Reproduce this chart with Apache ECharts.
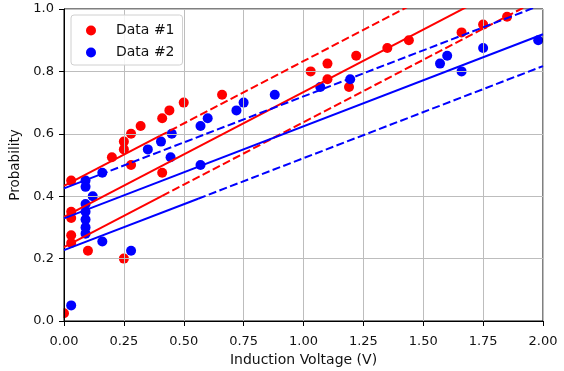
<!DOCTYPE html>
<html>
<head>
<meta charset="utf-8">
<script src="https://cdn.jsdelivr.net/npm/echarts@6/dist/echarts.min.js"></script>
<style>html,body{margin:0;padding:0;background:#fff;}#c{width:564px;height:371px;}</style>
</head>
<body>
<div id="c"></div>
<script>
// ---- data ----
const data1 = [
  [0.00,0.025],[0.03,0.45],[0.03,0.35],[0.03,0.33],[0.03,0.275],[0.03,0.25],
  [0.10,0.225],[0.20,0.525],[0.25,0.575],[0.25,0.55],[0.25,0.20],[0.28,0.60],
  [0.28,0.50],[0.32,0.625],[0.41,0.65],[0.41,0.475],[0.44,0.675],[0.50,0.70],
  [0.66,0.725],[1.03,0.80],[1.10,0.825],[1.10,0.775],[1.19,0.75],[1.22,0.85],
  [1.35,0.875],[1.44,0.90],[1.66,0.925],[1.75,0.95],[1.85,0.975]
];
const data2 = [
  [0.03,0.05],[0.09,0.45],[0.09,0.43],[0.09,0.375],[0.09,0.35],[0.09,0.325],
  [0.09,0.30],[0.09,0.28],[0.12,0.40],[0.16,0.475],[0.16,0.255],[0.28,0.225],
  [0.35,0.55],[0.405,0.575],[0.45,0.60],[0.445,0.525],[0.57,0.50],[0.57,0.625],
  [0.60,0.65],[0.72,0.675],[0.75,0.70],[0.88,0.725],[1.07,0.75],[1.195,0.775],
  [1.57,0.825],[1.60,0.85],[1.66,0.80],[1.75,0.875],[1.98,0.90]
];
// fit lines and bands (endpoints)
const redFit        = [[0,0.334],[2,1.134]];
const redUpperSolid = [[0,0.433],[0.40,0.593]];
const redUpperDash  = [[0.40,0.593],[2,1.233]];
const redLowerSolid = [[0,0.237],[0.41,0.401]];
const redLowerDash  = [[0.41,0.401],[2,1.037]];
const blueFit        = [[0,0.329],[2,0.919]];
const blueUpperSolid = [[0,0.425],[0.15,0.469]];
const blueUpperDash  = [[0.15,0.469],[2,1.015]];
const blueLowerSolid = [[0,0.227],[0.56,0.392]];
const blueLowerDash  = [[0.56,0.392],[2,0.817]];
const xTickLabels = ['0.00','0.25','0.50','0.75','1.00','1.25','1.50','1.75','2.00'];
const yTickLabels = ['0.0','0.2','0.4','0.6','0.8','1.0'];
const seriesNames = ['Data #1','Data #2'];

const FONT = 'DejaVu Sans';
const RED = '#ff0000', BLUE = '#0000ff';
const dash = [8,3.4];

function lineSeries(d, color, dashed){
  return {type:'line', data:d, symbol:'none', z:4, silent:true, clip:true,
    lineStyle:{color:color, width:2, type: dashed ? dash : 'solid'}};
}

const chart = echarts.init(document.getElementById('c'), null, {renderer:'canvas'});
chart.setOption({
  animation:false,
  backgroundColor:'#fff',
  grid:{left:64, right:21, top:9, bottom:50, containLabel:false, outerBoundsMode:'none',
    show:true, borderColor:'#000', borderWidth:1, backgroundColor:'transparent', z:3},
  xAxis:{type:'value', min:0, max:2, interval:0.25, z:3,
    name:'Induction Voltage (V)', nameLocation:'middle', nameGap:28,
    nameTextStyle:{fontFamily:FONT, fontSize:14, color:'#111'},
    axisLine:{show:true, onZero:false, lineStyle:{color:'#000', width:1}},
    axisTick:{show:true, length:5, lineStyle:{color:'#000'}},
    axisLabel:{margin:14, fontFamily:FONT, fontSize:13, color:'#111',
      formatter:v => xTickLabels[Math.round(v/0.25)] ?? v.toFixed(2)},
    splitLine:{show:true, lineStyle:{color:'#bdbdbd', width:1}}
  },
  yAxis:{type:'value', min:0, max:1, interval:0.2, z:3,
    name:'Probability', nameLocation:'middle', nameGap:35,
    nameTextStyle:{fontFamily:FONT, fontSize:13.5, color:'#111'},
    axisLine:{show:true, onZero:false, lineStyle:{color:'#000', width:1}},
    axisTick:{show:true, length:5, lineStyle:{color:'#000'}},
    axisLabel:{margin:10, fontFamily:FONT, fontSize:13, color:'#111',
      formatter:v => yTickLabels[Math.round(v/0.2)] ?? v.toFixed(1)},
    splitLine:{show:true, lineStyle:{color:'#bdbdbd', width:1}}
  },
  legend:{data:seriesNames, orient:'vertical', left:71, top:15,
    padding:[8,8,5,15], itemGap:7, itemWidth:10, itemHeight:10, icon:'circle',
    backgroundColor:'rgba(255,255,255,0.85)', borderColor:'#d0d0d0', borderWidth:1, borderRadius:3,
    textStyle:{fontFamily:FONT, fontSize:14, color:'#111', lineHeight:15, padding:[0,0,0,15]}, z:6},
  graphic:[{type:'rect', shape:{x:0, y:0, width:63.5, height:330}, style:{fill:'#fff'}, z:2.5, silent:true}],
  series:[
    {name:seriesNames[0], type:'scatter', data:data1, symbolSize:10, z:2, itemStyle:{color:RED, opacity:1}},
    {name:seriesNames[1], type:'scatter', data:data2, symbolSize:10, z:2, itemStyle:{color:BLUE, opacity:1}},
    lineSeries(redFit, RED, false),
    lineSeries(redUpperSolid, RED, false),
    lineSeries(redUpperDash, RED, true),
    lineSeries(redLowerSolid, RED, false),
    lineSeries(redLowerDash, RED, true),
    lineSeries(blueFit, BLUE, false),
    lineSeries(blueUpperSolid, BLUE, false),
    lineSeries(blueUpperDash, BLUE, true),
    lineSeries(blueLowerSolid, BLUE, false),
    lineSeries(blueLowerDash, BLUE, true)
  ]
});
</script>
</body>
</html>
